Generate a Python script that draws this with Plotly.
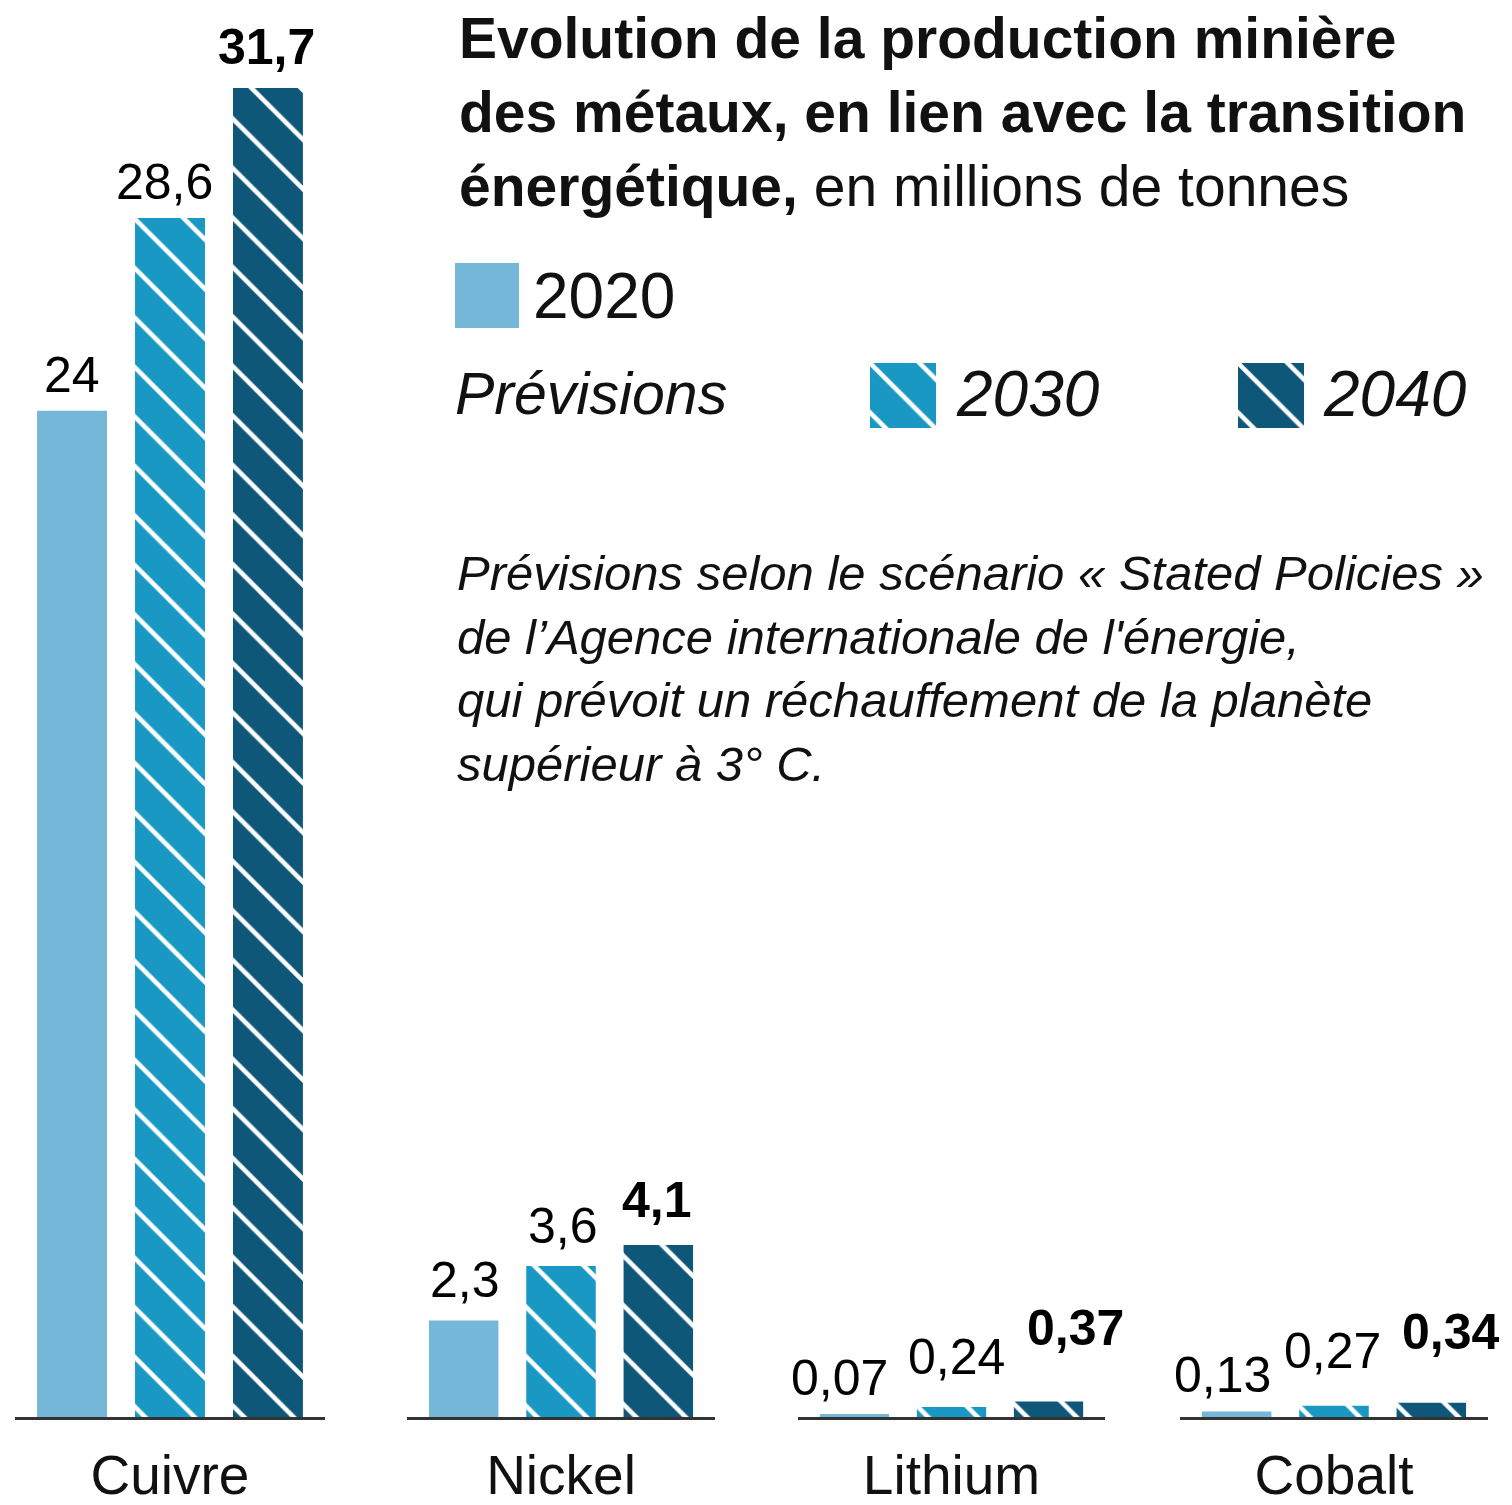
import plotly.graph_objects as go

# ---- data ----
categories = ["Cuivre", "Nickel", "Lithium", "Cobalt"]
years = ["2020", "2030", "2040"]
v2020 = [24, 2.3, 0.07, 0.13]
v2030 = [28.6, 3.6, 0.24, 0.27]
v2040 = [31.7, 4.1, 0.37, 0.34]
series = [v2020, v2030, v2040]

# ---- styles ----
colors = ["#74b7d8", "#1a98c4", "#0f5779"]
hatched = [False, True, True]
bold = [False, False, True]
# label offsets (px): horizontal nudge and gap above bar, per category x year
label_dx = [[0, -6, -2], [2, 2, -2], [-14, 5, 26], [-14, -2, 19]]
label_gap = [[18, 18, 23], [23, 22, 27], [18, 32, 55], [19, 37, 53]]

FONT = "Liberation Sans, Arial, sans-serif"
TXT = "#111111"
W, H = 1512, 1505
SLOT = 98  # px between bar centres within a group


def fmt(v):
    return f"{v:g}".replace(".", ",")


def px_x(p):
    return p / W


def px_y(p):
    return (H - p) / H


def marker_for(i):
    m = dict(color=colors[i], line=dict(width=0))
    if hatched[i]:
        m["pattern"] = dict(shape="\\", fgcolor="white", bgcolor=colors[i],
                            size=35, solidity=0.13, fillmode="replace")
    return m


fig = go.Figure()

domains = [(15, 325), (407, 715), (798, 1105), (1180, 1488)]
annotations = []

for ci, cat in enumerate(categories):
    xa = "x" if ci == 0 else f"x{ci+1}"
    for si, yr in enumerate(years):
        v = series[si][ci]
        fig.add_trace(go.Bar(
            x=[cat], y=[v], name=yr, xaxis=xa, yaxis="y",
            marker=marker_for(si), showlegend=False, hoverinfo="skip",
        ))
        annotations.append(dict(
            x=cat, y=v, xref=xa, yref="y", showarrow=False,
            xanchor="center", yanchor="bottom",
            xshift=(si - 1) * SLOT + label_dx[ci][si], yshift=label_gap[ci][si] - 12,
            text=(f"<b>{fmt(v)}</b>" if bold[si] else fmt(v)),
            font=dict(family=FONT, size=50, color="#000000"),
        ))

layout_axes = {}
for ci, (a, b) in enumerate(domains):
    key = "xaxis" if ci == 0 else f"xaxis{ci+1}"
    layout_axes[key] = dict(
        domain=[px_x(a), px_x(b)], anchor="y", showline=True, linecolor="#333333",
        linewidth=3, ticks="", showgrid=False, zeroline=False, fixedrange=True,
        type="category", range=[-0.5, 0.5], autorange=False,
        tickfont=dict(family=FONT, size=55, color=TXT),
        ticklabelstandoff=8, automargin=False,
    )

# legend swatches (small dedicated axes)
swatches = [((455, 519), (263, 328)), ((870, 936), (363, 428)), ((1238, 1304), (363, 428))]
for si, ((x0, x1), (y0, y1)) in enumerate(swatches):
    n = 5 + si
    fig.add_trace(go.Bar(x=[0], y=[1], width=[1], xaxis=f"x{n}", yaxis=f"y{n}",
                         marker=marker_for(si), showlegend=False, hoverinfo="skip"))
    layout_axes[f"xaxis{n}"] = dict(domain=[px_x(x0), px_x(x1)], anchor=f"y{n}", range=[-0.5, 0.5],
                                    visible=False, fixedrange=True)
    layout_axes[f"yaxis{n}"] = dict(domain=[px_y(y1), px_y(y0)], anchor=f"x{n}", range=[0, 1],
                                    visible=False, fixedrange=True)

fig.update_layout(
    width=W, height=H,
    margin=dict(l=0, r=0, t=0, b=0),
    paper_bgcolor="white", plot_bgcolor="white",
    barmode="group", bargap=0.052, bargroupgap=0.286,
    yaxis=dict(domain=[(H - 1417) / H, 1], range=[0, 33.8], autorange=False,
               visible=False, fixedrange=True),
    showlegend=False,
    **layout_axes,
)

texts = [
    dict(x=px_x(457), y=px_y(4), xanchor="left", yanchor="top", align="left",
         text="<b>Evolution de la production minière<br>des métaux, en lien avec la transition<br>"
              "énergétique,</b> en millions de tonnes",
         font=dict(family=FONT, size=57, color=TXT)),
    dict(x=px_x(531), y=px_y(296), xanchor="left", yanchor="middle", text="2020",
         font=dict(family=FONT, size=64, color=TXT)),
    dict(x=px_x(453), y=px_y(394), xanchor="left", yanchor="middle", text="<i>Prévisions</i>",
         font=dict(family=FONT, size=59, color=TXT)),
    dict(x=px_x(954), y=px_y(394), xanchor="left", yanchor="middle", text="<i>2030</i>",
         font=dict(family=FONT, size=64, color=TXT)),
    dict(x=px_x(1321), y=px_y(394), xanchor="left", yanchor="middle", text="<i>2040</i>",
         font=dict(family=FONT, size=64, color=TXT)),
    dict(x=px_x(455), y=px_y(544), xanchor="left", yanchor="top", align="left",
         text="<i>Prévisions selon le scénario « Stated Policies »<br>"
              "de l’Agence internationale de l'énergie,<br>"
              "qui prévoit un réchauffement de la planète<br>"
              "supérieur à 3° C.</i>",
         font=dict(family=FONT, size=49, color=TXT)),
]
for a in texts:
    a.update(xref="paper", yref="paper", showarrow=False)
fig.update_layout(annotations=annotations + texts)

fig.write_html("out.html", config={"displayModeBar": False},
               post_script="document.body.style.margin='0px';")
